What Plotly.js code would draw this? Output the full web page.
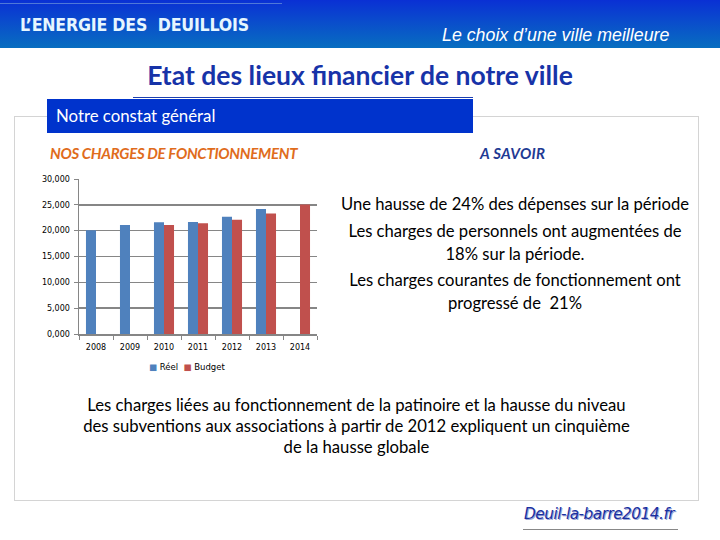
<!DOCTYPE html>
<html>
<head>
<meta charset="utf-8">
<script src="https://cdn.plot.ly/plotly-3.0.1.min.js"></script>
<style>
  html, body { margin:0; padding:0; width:720px; height:540px; overflow:hidden; background:#fff; }
  .abs { position:absolute; }
  #banner { left:0; top:0; width:720px; height:48px;
    background: linear-gradient(to bottom, #0a30d4 0%, #0a4ccc 45%, #086ec0 100%); }
  #bannerline { left:0; top:3px; width:282px; height:1px; background:#4f78d8; }
  #brand { left:20px; top:15px; color:#e6f6ff; font-family:"DejaVu Sans Condensed","DejaVu Sans"; font-weight:bold; font-size:17.6px; letter-spacing:-0.2px; }
  #slogan { left:442px; top:25px; color:#ffffff; font-family:"Liberation Sans",Arial; font-style:italic; font-size:17.8px; }
  #title { left:0; width:720px; top:59px; text-align:center; color:#1733a8; font-family:Lato,"Open Sans"; font-weight:bold; font-size:26.5px; line-height:32px; }
  #titleline { left:133px; top:97px; width:340px; height:1px; background:#1d3fb0; }
  #frame { left:14px; top:116px; width:685px; height:385px; border:1px solid #d4d4d4; box-sizing:border-box; }
  #box { left:47px; top:99px; width:426px; height:34px; background:#0033cc; }
  #boxtext { left:56px; top:105px; color:#ffffff; font-family:Lato,"Open Sans"; font-size:16.8px; }
  #charges { left:50px; top:144px; color:#e06c1c; font-family:Lato,"Open Sans"; font-weight:bold; font-style:italic; font-size:15px; letter-spacing:-0.3px; }
  #savoir { left:480px; top:144px; color:#1f3a93; font-family:Lato,"Open Sans"; font-weight:bold; font-style:italic; font-size:15px; letter-spacing:0.3px; }
  .rt { position:absolute; left:315px; width:400px; text-align:center; color:#000; font-family:Lato,"Open Sans"; font-size:16.6px; line-height:23px; }
  #bottom { left:48px; width:617px; top:395px; text-align:center; color:#000; font-family:Lato,"Open Sans"; font-size:16.7px; line-height:21px; }
  #footer { left:524px; top:505px; color:#1a2fa0; font-family:"DejaVu Sans"; font-style:italic; font-size:15.3px; text-shadow:1px 1px 0 #9aa8d8; letter-spacing:-0.5px; }
  #footline { left:523px; top:529px; width:155px; height:1px; background:#888; }
  #chart { position:absolute; left:0; top:0; width:720px; height:540px; }
</style>
</head>
<body>
<div id="banner" class="abs"></div>
<div id="bannerline" class="abs"></div>
<div id="brand" class="abs">L’ENERGIE DES&nbsp; DEUILLOIS</div>
<div id="slogan" class="abs">Le choix d’une ville meilleure</div>
<div id="title" class="abs">Etat des lieux financier de notre ville</div>
<div id="titleline" class="abs"></div>
<div id="frame" class="abs"></div>
<div id="box" class="abs"></div>
<div id="boxtext" class="abs">Notre constat général</div>
<div id="charges" class="abs">NOS CHARGES DE FONCTIONNEMENT</div>
<div id="savoir" class="abs">A SAVOIR</div>
<div class="rt" style="top:193px;">Une hausse de 24% des dépenses sur la période</div>
<div class="rt" style="top:220px;">Les charges de personnels ont augmentées de<br>18% sur la période.</div>
<div class="rt" style="top:269px;">Les charges courantes de fonctionnement ont<br>progressé de&nbsp; 21%</div>
<div id="bottom" class="abs">Les charges liées au fonctionnement de la patinoire et la hausse du niveau<br>des subventions aux associations à partir de 2012 expliquent un cinquième<br>de la hausse globale</div>
<div id="footer" class="abs">Deuil-la-barre2014.fr</div>
<div id="footline" class="abs"></div>
<div id="chart"></div>
<script>
const years = ['2008','2009','2010','2011','2012','2013','2014'];
const reel = [20100, 21100, 21650, 21700, 22700, 24200, null];
const budget = [null, null, 21100, 21450, 22100, 23300, 25050];
const seriesNames = ['Réel', 'Budget'];
const yTickVals = [0, 5000, 10000, 15000, 20000, 25000, 30000];
const yTickText = ['0,000', '5,000', '10,000', '15,000', '20,000', '25,000', '30,000'];

const W = 720, H = 540;
const colors = ['#4f81bd', '#c0504d'];
const tickFont = {family: 'DejaVu Sans', size: 8, color: '#000'};
const data = [
  {type:'bar', name:seriesNames[0], x: years, y: reel, marker:{color:colors[0]}},
  {type:'bar', name:seriesNames[1], x: years, y: budget, marker:{color:colors[1]}}
];
const legendText = seriesNames.map((n, i) =>
  '<span style="color:' + colors[i] + '">■</span> ' + n).join('  ');
const layout = {
  width: W, height: H,
  margin: {l:0, r:0, t:0, b:0, pad:0},
  paper_bgcolor: 'rgba(0,0,0,0)', plot_bgcolor: 'rgba(0,0,0,0)',
  barmode: 'group', bargap: 0.41, bargroupgap: 0,
  showlegend: false,
  annotations: [{
    xref:'paper', yref:'paper', x: 147/W, y: 1 - 367/H, xanchor:'left', yanchor:'middle',
    text: legendText, showarrow:false, font: {family:'DejaVu Sans', size:8.5, color:'#000'}
  }],
  xaxis: {domain:[79/W, 317/W], type:'category', showgrid:false,
          showline:true, linecolor:'#868686', linewidth:1.5,
          ticks:'outside', ticklen:4, tickcolor:'#868686', tickson:'boundaries',
          ticklabelstandoff: 5,
          tickfont: tickFont, fixedrange:true},
  yaxis: {domain:[1 - 334/H, 1 - 179/H], range:[0, 30000],
          tickvals: yTickVals, ticktext: yTickText, tickfont: tickFont,
          showgrid:true, gridcolor:'#868686', gridwidth:1.6,
          showline:true, linecolor:'#868686', linewidth:1.5,
          ticks:'outside', ticklen:4, tickcolor:'#868686', ticklabelstandoff: 2,
          zeroline:false, fixedrange:true}
};
Plotly.newPlot('chart', data, layout, {displayModeBar:false, staticPlot:true});
</script>
</body>
</html>
